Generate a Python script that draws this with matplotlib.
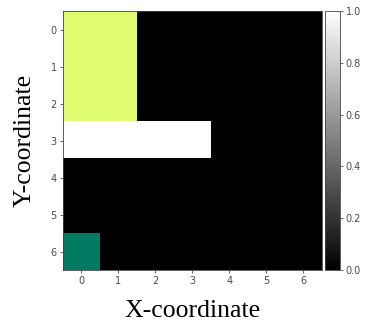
import numpy as np
import matplotlib
matplotlib.use("Agg")
import matplotlib.pyplot as plt
from matplotlib.colors import to_rgba

# Grid values (grayscale base) and colored overlay cells
rows = 7
cols = 7
gray_values = [
    [0, 0, 0, 0, 0, 0, 0],
    [0, 0, 0, 0, 0, 0, 0],
    [0, 0, 0, 0, 0, 0, 0],
    [1, 1, 1, 1, 0, 0, 0],
    [0, 0, 0, 0, 0, 0, 0],
    [0, 0, 0, 0, 0, 0, 0],
    [0, 0, 0, 0, 0, 0, 0],
]
# overlay cells: (row, col, color)
overlay_rows = [0, 0, 1, 1, 2, 2, 6]
overlay_cols = [0, 1, 0, 1, 0, 1, 0]
overlay_colors = ["#dffb70", "#dffb70", "#dffb70", "#dffb70", "#dffb70", "#dffb70", "#007b62"]
ticks = list(range(7))
cbar_ticks = [0.0, 0.2, 0.4, 0.6, 0.8, 1.0]

fig = plt.figure(figsize=(3.65, 3.25), dpi=100)
ax = fig.add_axes([0.1726, 0.169, 0.709, 0.797])
cax = fig.add_axes([0.891, 0.169, 0.041, 0.797])

im = ax.imshow(np.array(gray_values, dtype=float), cmap="gray", vmin=0, vmax=1,
               aspect="auto", interpolation="nearest")
overlay = np.zeros((rows, cols, 4))
for r, c, col in zip(overlay_rows, overlay_cols, overlay_colors):
    overlay[r, c] = to_rgba(col)
ax.imshow(overlay, aspect="auto", interpolation="nearest")

tick_color = "#4a4a4a"
ax.set_xticks(ticks)
ax.set_yticks(ticks)
ax.tick_params(labelsize=7, colors=tick_color, length=2.5, width=0.6, pad=2)
for s in ax.spines.values():
    s.set_linewidth(0.6)
    s.set_color("#444444")

cb = fig.colorbar(im, cax=cax, ticks=cbar_ticks)
cb.ax.tick_params(labelsize=7, colors=tick_color, length=2.5, width=0.6, pad=1.5)
cb.outline.set_linewidth(0.6)
cb.outline.set_edgecolor("#444444")

ax.set_xlabel("X-coordinate", family="Liberation Serif", fontsize=18.5, labelpad=10)
ax.set_ylabel("Y-coordinate", family="Liberation Serif", fontsize=18.5, labelpad=11)

fig.savefig("out.png", dpi=100)
